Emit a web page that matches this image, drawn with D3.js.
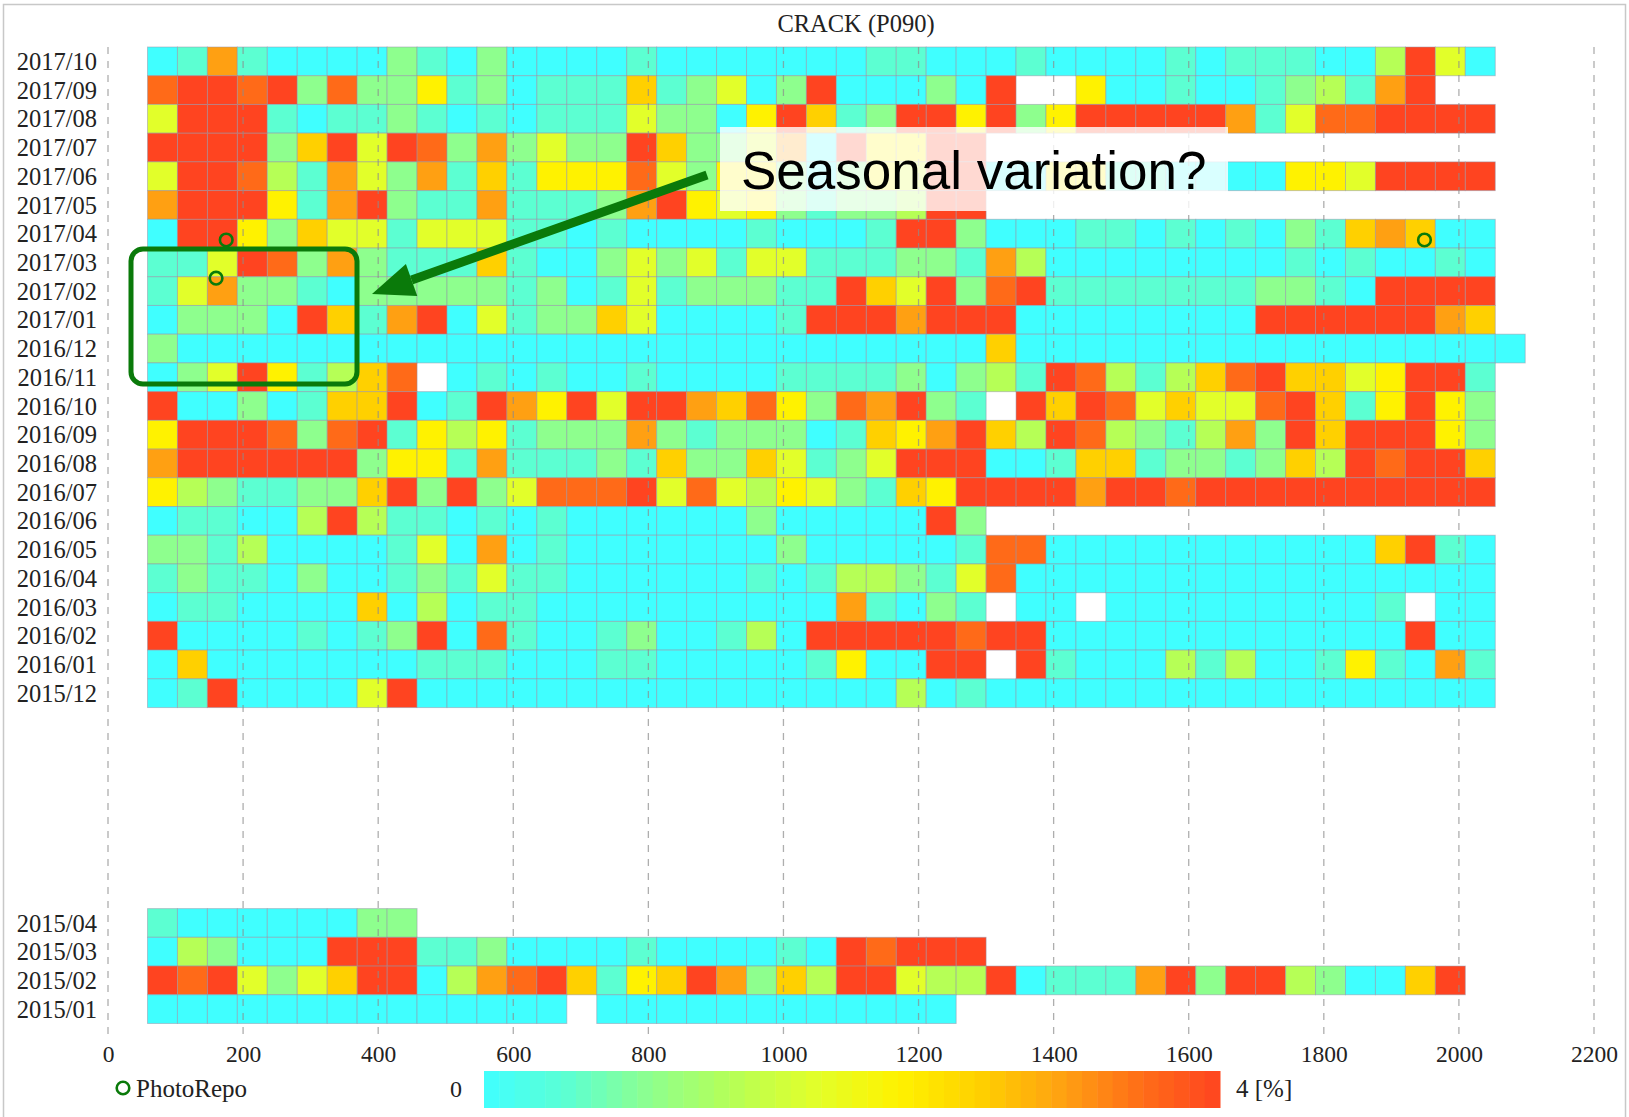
<!DOCTYPE html>
<html>
<head>
<meta charset="utf-8">
<script src="https://cdn.jsdelivr.net/npm/d3@7/dist/d3.min.js"></script>
<style>
  body { margin: 0; background: #fff; }
</style>
</head>
<body>
<div id="chart"></div>
<script>
// months, top row first
const months = [
  "2017/10", "2017/09", "2017/08", "2017/07", "2017/06", "2017/05", "2017/04", "2017/03",
  "2017/02", "2017/01", "2016/12", "2016/11", "2016/10", "2016/09", "2016/08", "2016/07",
  "2016/06", "2016/05", "2016/04", "2016/03", "2016/02", "2016/01", "2015/12", "2015/11",
  "2015/10", "2015/09", "2015/08", "2015/07", "2015/06", "2015/05", "2015/04", "2015/03",
  "2015/02", "2015/01"
];

// one string per month, one char per cell (level 0..9, "." = no data)
const rowCodes = [
  "017100002102000" + "0100000001100010" + "00010111003940",
  "899892822512011" + "16124029000209.." + "500100123179",
  "499910112101011" + "1422059612995925" + "99999714889999",
  "999926949827242" + "2962" + "247095599",
  "499831742716155" + "5842" + "55202549900551100" + "005549999",
  "799951792117111" + "2795" + "452122399",
  "099526441444110" + "1000010001992000" + "11010102167600",
  "114982721116100" + "2424144111221730" + "00000001010010",
  "147221022222120" + "1412221196492891" + "11111122109999",
  "022209617904122" + "6400001999799900" + "00000099999976",
  "2" + "000000000" + "000000000" + "000000000" + "6" + "00000000000000000",
  "024951368.01010" + "0100001111202319" + "83136896645991",
  "900201669019759" + "4997685287921.96" + "98464489615952",
  "599982891535122" + "2721222016579639" + "83213729699952",
  "799999925517111" + "2162264124999001" + "66122126398996",
  "532112269292488" + "8948435421659999" + "79989999999999",
  "011003931101010" + "0000020000092",
  "221300001407010" + "0000002000001880" + "00000000006910",
  "121102001214110" + "0000010133214800" + "00000000000000",
  "011000060301100" + "0000000071021.00" + ".0000000001.00",
  "900001012908100" + "1200130999998990" + "00000000000900",
  "060000000111000" + "1100000150099.91" + "00031300151071",
  "019000049000000" + "0000000000301000" + "00000000000000",
  "", "", "", "", "", "", "",
  "100000022",
  "03200099911200001000010" + "98999",
  "98942469903789615697263" + "994339011179299320069",
  "00000000000000" + "." + "000000000000"
];

// level -> percent
const levelValues = [0, 0.45, 0.9, 1.35, 1.8, 2.25, 2.7, 3.15, 3.6, 4.0];
const colorStops = [0, 0.45, 0.9, 1.35, 1.8, 2.25, 2.7, 3.15, 3.6, 4.0];
const colorRange = ["#40ffff", "#5cffd2", "#8eff8e", "#b6ff56", "#e2ff2a",
                    "#fff200", "#ffd000", "#ffa012", "#ff6a18", "#ff4420"];

const xTicks = [0, 200, 400, 600, 800, 1000, 1200, 1400, 1600, 1800, 2000, 2200];
const colStart = 58.5;   // position of first cell
const colStep = 44.34;   // cell width in x units

// photo repository points
const photoX = [175, 160, 1949];
const photoMonth = ["2017/04", "2017/02", "2017/04"];
const photoDay = [0.72, 0.05, 0.72];

const W = 1629, H = 1117;
const rowH = 28.72, topY = 47;
const serif = "'Liberation Serif', 'Times New Roman', serif";

const svg = d3.select("#chart").append("svg")
    .attr("width", W)
    .attr("height", H);

// frame (bottom edge falls outside the picture)
svg.append("rect")
    .attr("x", 3.5).attr("y", 4.5)
    .attr("width", W - 7).attr("height", H + 10)
    .attr("fill", "none")
    .attr("stroke", "#c8c8c8")
    .attr("stroke-width", 1.5);

const x = d3.scaleLinear().domain([0, 2200]).range([108, 1594]);
const y = d3.scaleBand().domain(months).range([topY, topY + months.length * rowH]);

const color = d3.scaleLinear()
    .domain(colorStops)
    .range(colorRange)
    .clamp(true);

const cells = [];
months.forEach((m, r) => {
    rowCodes[r].split("").forEach((ch, c) => {
        if (ch === ".") return;
        cells.push({ month: m, col: c, value: levelValues[+ch] });
    });
});

const cellW = x(colStep) - x(0);

svg.append("g")
    .selectAll("rect")
    .data(cells)
    .join("rect")
    .attr("x", d => x(colStart + d.col * colStep))
    .attr("y", d => y(d.month))
    .attr("width", cellW)
    .attr("height", y.bandwidth())
    .attr("fill", d => color(d.value))
    .attr("stroke", "#9494a8")
    .attr("stroke-opacity", 0.5)
    .attr("stroke-width", 1);

// dashed grid on top of the cells
svg.append("g")
    .selectAll("line")
    .data(xTicks)
    .join("line")
    .attr("x1", d => x(d)).attr("x2", d => x(d))
    .attr("y1", topY).attr("y2", 1037)
    .attr("stroke", "#8c8c8c")
    .attr("stroke-opacity", 0.7)
    .attr("stroke-width", 1.3)
    .attr("stroke-dasharray", "7,7");

// x tick labels
svg.append("g")
    .attr("transform", "translate(0,1042)")
    .call(d3.axisBottom(x).tickValues(xTicks).tickSize(0).tickFormat(d3.format("d")))
    .call(g => g.select(".domain").remove())
    .selectAll("text")
    .attr("fill", "#222")
    .style("font-family", serif)
    .style("font-size", "23.5px");

// month labels (only months with data)
svg.append("g")
    .selectAll("text")
    .data(months.filter((m, i) => rowCodes[i].length > 0))
    .join("text")
    .attr("x", 97)
    .attr("y", d => y(d) + y.bandwidth() / 2)
    .attr("dy", "0.35em")
    .attr("text-anchor", "end")
    .attr("fill", "#222")
    .style("font-family", serif)
    .style("font-size", "24.5px")
    .text(d => d);

// title
svg.append("text")
    .attr("x", 856).attr("y", 32)
    .attr("text-anchor", "middle")
    .attr("fill", "#222")
    .style("font-family", serif)
    .style("font-size", "24.5px")
    .text("CRACK (P090)");

// photo markers
svg.append("g")
    .selectAll("circle")
    .data(photoX.map((v, i) => ({ x: v, month: photoMonth[i], f: photoDay[i] })))
    .join("circle")
    .attr("cx", d => x(d.x))
    .attr("cy", d => y(d.month) + d.f * y.bandwidth())
    .attr("r", 6.3)
    .attr("fill", "none")
    .attr("stroke", "#0a7a0a")
    .attr("stroke-width", 2.6);

// colorbar
const cbX0 = 484, cbX1 = 1220, cbY = 1071, cbH = 37, cbN = 48;
const cbStep = (cbX1 - cbX0) / cbN;
svg.append("g")
    .selectAll("rect")
    .data(d3.range(cbN))
    .join("rect")
    .attr("x", i => cbX0 + i * cbStep)
    .attr("y", cbY)
    .attr("width", cbStep + 0.5)
    .attr("height", cbH)
    .attr("fill", i => color((i + 0.5) / cbN * 4));

svg.append("text")
    .attr("x", 456).attr("y", 1097)
    .attr("text-anchor", "middle")
    .attr("fill", "#222")
    .style("font-family", serif)
    .style("font-size", "24px")
    .text("0");

svg.append("text")
    .attr("x", 1236).attr("y", 1097)
    .attr("fill", "#222")
    .style("font-family", serif)
    .style("font-size", "25px")
    .text("4 [%]");

// legend
svg.append("circle")
    .attr("cx", 123).attr("cy", 1088).attr("r", 6.3)
    .attr("fill", "none")
    .attr("stroke", "#0a7a0a")
    .attr("stroke-width", 2.6);
svg.append("text")
    .attr("x", 136).attr("y", 1097)
    .attr("fill", "#222")
    .style("font-family", serif)
    .style("font-size", "25px")
    .text("PhotoRepo");

// annotation: box around early-year cells
svg.append("rect")
    .attr("x", 131).attr("y", 249)
    .attr("width", 226).attr("height", 135)
    .attr("rx", 12)
    .attr("fill", "none")
    .attr("stroke", "#0a7a0a")
    .attr("stroke-width", 5);

// arrow
const a0 = [707, 175], a1 = [372, 294];
const ang = Math.atan2(a1[1] - a0[1], a1[0] - a0[0]);
const headLen = 42, headW = 17;
const base = [a1[0] - headLen * Math.cos(ang), a1[1] - headLen * Math.sin(ang)];
svg.append("line")
    .attr("x1", a0[0]).attr("y1", a0[1])
    .attr("x2", base[0]).attr("y2", base[1])
    .attr("stroke", "#0a7a0a")
    .attr("stroke-width", 9);
svg.append("path")
    .attr("d", d3.line()([
        a1,
        [base[0] + headW * Math.sin(ang), base[1] - headW * Math.cos(ang)],
        [base[0] - headW * Math.sin(ang), base[1] + headW * Math.cos(ang)]
    ]) + "Z")
    .attr("fill", "#0a7a0a");

// text box
svg.append("rect")
    .attr("x", 720).attr("y", 127)
    .attr("width", 508).attr("height", 84)
    .attr("fill", "#fff")
    .attr("fill-opacity", 0.8);
svg.append("text")
    .attr("x", 741).attr("y", 189)
    .attr("fill", "#000")
    .style("font-family", "'Liberation Sans', Arial, sans-serif")
    .style("font-size", "53px")
    .text("Seasonal variation?");
</script>
</body>
</html>
